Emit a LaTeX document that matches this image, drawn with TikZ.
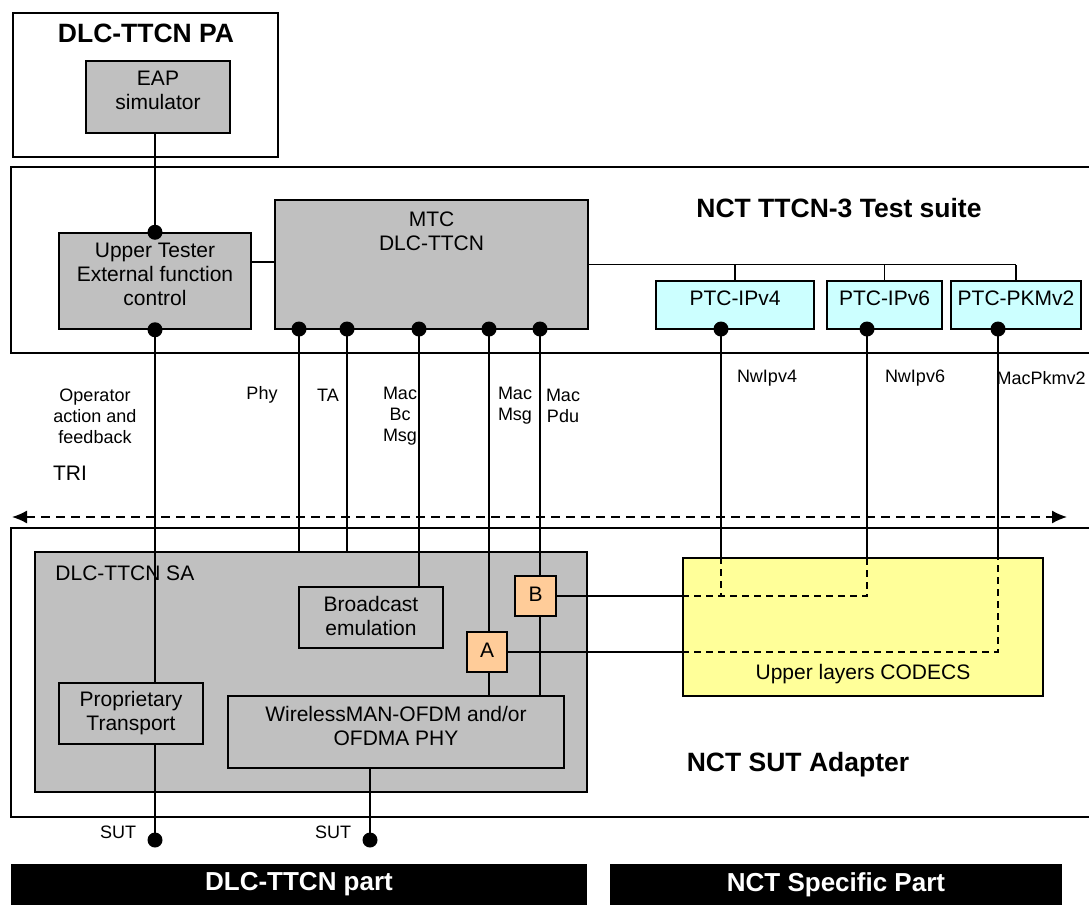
\documentclass[tikz,border=0pt]{standalone}
\usepackage{fontspec}
\setmainfont{Liberation Sans}
\usetikzlibrary{arrows.meta}
\definecolor{colorG}{HTML}{C0C0C0}
\definecolor{colorC}{HTML}{CCFFFF}
\definecolor{colorY}{HTML}{FFFF99}
\definecolor{colorO}{HTML}{FFCC99}
\tikzset{
    box/.style={draw, line width=1.5pt, fill=colorG, align=center, inner sep=0pt,
        font=\fontsize{21}{24}\selectfont},
    lift/.style={text depth=#1},
    frame/.style={draw, line width=1.4pt},
    wire/.style={line width=1.4pt},
    dashwire/.style={line width=1.4pt, dash pattern=on 7pt off 5pt},
    lbl/.style={align=center, inner sep=0pt, font=\fontsize{18}{21}\selectfont},
    head/.style={inner sep=0pt, font=\fontsize{26.5}{30}\selectfont\bfseries},
    bar/.style={fill=black, text=white, inner sep=0pt, font=\fontsize{26}{30}\selectfont\bfseries},
    dot/.style={fill=black}
}

\begin{document}
\begin{tikzpicture}[x=1pt,y=-1pt]
        \useasboundingbox (0,0) rectangle (1089,906);
        \clip (0,0) rectangle (1089,906);

        % frames
        \draw[frame] (13,13) rectangle (278,157);
        \draw[frame] (11,167) rectangle (1100,353);
        \draw[frame] (11,528) rectangle (1100,817);
        \node[head] (patitle) at (146,33) {DLC-TTCN PA};
        \node[head] (tstitle) at (839,208) {NCT TTCN-3 Test suite};
        \node[head] (suttitle) at (798,765) {NCT SUT Adapter};

        % test suite
        \node[box, lift=14pt, minimum width=144pt, minimum height=72pt] (eap) at (158,97) {EAP\\simulator};
        \node[box, lift=14pt, minimum width=192pt, minimum height=96pt] (ut) at (155,281) {Upper Tester\\External function\\control};
        \node[box, minimum width=313pt, minimum height=129pt,
            label={[anchor=north, align=center, inner sep=0pt, yshift=-12pt,
                font=\fontsize{21}{24}\selectfont]north:MTC\\DLC-TTCN}] (mtc) at (431.5,264.5) {};
        \node[box, lift=14pt, fill=colorC, minimum width=158pt, minimum height=48pt] (ipv4) at (735,305) {PTC-IPv4};
        \node[box, lift=14pt, fill=colorC, minimum width=115pt, minimum height=48pt] (ipv6) at (884.5,305) {PTC-IPv6};
        \node[box, lift=14pt, fill=colorC, minimum width=130pt, minimum height=48pt] (pkm) at (1016,305) {PTC-PKMv2};

        % adapter
        \node[box, minimum width=552pt, minimum height=240pt,
            label={[anchor=north west, inner sep=0pt, xshift=21pt, yshift=-14pt,
                font=\fontsize{21}{24}\selectfont]north west:DLC-TTCN SA}] (sa) at (311,672) {};
        \node[box, lift=3pt, minimum width=144pt, minimum height=61pt] (bc) at (371,617.5) {Broadcast\\emulation};
        \node[box, minimum width=144pt, minimum height=61pt] (pt) at (131,713.5) {Proprietary\\Transport};
        \node[box, lift=12pt, minimum width=336pt, minimum height=72pt] (phy) at (396,732) {WirelessMAN-OFDM and/or\\OFDMA PHY};
        \node[box, lift=3pt, fill=colorO, minimum width=41pt, minimum height=40pt] (boxB) at (535.5,596) {B};
        \node[box, lift=3pt, fill=colorO, minimum width=40pt, minimum height=40pt] (boxA) at (487,652) {A};
        \node[box, fill=colorY, minimum width=360pt, minimum height=138pt,
            label={[anchor=south, inner sep=0pt, yshift=13pt,
                font=\fontsize{21}{24}\selectfont]south:Upper layers CODECS}] (codec) at (863,627) {};

        % ports
        \coordinate (cphy) at (299,329);
        \coordinate (cta) at (347,329);
        \coordinate (cbc) at (419,329);
        \coordinate (cmsg) at (489,329);
        \coordinate (cpdu) at (540,329);
        \coordinate (cv4) at (721,329);
        \coordinate (cv6) at (867,329);
        \coordinate (cpk) at (998,329);
        \coordinate (sut1) at (155,840);
        \coordinate (sut2) at (370,840);
        \coordinate (trileft) at (12,517);
        \coordinate (triright) at (1067,517);

        % connections
        \draw[wire] (ut.north) -- (ut.north |- eap.south);
        \draw[wire] ([yshift=19pt]ut.east) -- ([yshift=19pt]ut.east -| mtc.west);
        \draw[wire] (mtc.east) -- (pkm.north |- mtc.east);
        \draw[wire] (ipv4.north) -- (ipv4.north |- mtc.east);
        \draw[wire] (ipv6.north) -- (ipv6.north |- mtc.east);
        \draw[wire] (pkm.north) -- (pkm.north |- mtc.east);
        \draw[wire] (ut.south) -- (ut.south |- pt.north);
        \draw[wire] (cphy) -- (cphy |- sa.north);
        \draw[wire] (cta) -- (cta |- sa.north);
        \draw[wire] (cbc) -- (cbc |- bc.north);
        \draw[wire] (cmsg) -- (cmsg |- boxA.north);
        \draw[wire] (cmsg |- boxA.south) -- (cmsg |- phy.north);
        \draw[wire] (cpdu) -- (cpdu |- boxB.north);
        \draw[wire] (cpdu |- boxB.south) -- (cpdu |- phy.north);
        \draw[wire] (cv4) -- (cv4 |- codec.north);
        \draw[wire] (cv6) -- (cv6 |- codec.north);
        \draw[wire] (cpk) -- (cpk |- codec.north);
        \draw[wire] (boxB.east) -- (boxB.east -| codec.west);
        \draw[wire] (boxA.east) -- (boxA.east -| codec.west);
        \draw[dashwire] (boxB.east -| codec.west) -- (boxB.east -| cv6) -- (cv6 |- codec.north);
        \draw[dashwire] (cv4 |- codec.north) -- (cv4 |- boxB.east);
        \draw[dashwire] (boxA.east -| codec.west) -- (boxA.east -| cpk) -- (cpk |- codec.north);
        \draw[wire] (sut1 |- pt.south) -- (sut1);
        \draw[wire] (sut2 |- phy.south) -- (sut2);
        \draw[line width=1.4pt, dash pattern=on 9pt off 6pt,
            {Latex[length=15pt,width=13pt]}-{Latex[length=15pt,width=13pt]}] (trileft) -- (triright);

        % dots
        \foreach \p in {ut.north, ut.south, cphy, cta, cbc, cmsg, cpdu, cv4, cv6, cpk, sut1, sut2}
            \fill[dot] (\p) circle (7.5pt);

        % labels
        \node[lbl] (operlbl) at (95,416) {Operator\\action and\\feedback};
        \node[lbl, font=\fontsize{21}{24}\selectfont] (trilbl) at (70,473) {TRI};
        \node[lbl] (phylbl) at (262,395) {Phy};
        \node[lbl] (talbl) at (328,395) {TA};
        \node[lbl] (bclbl) at (400,416) {Mac\\Bc\\Msg};
        \node[lbl] (msglbl) at (515,405.5) {Mac\\Msg};
        \node[lbl] (pdulbl) at (563,405.5) {Mac\\Pdu};
        \node[lbl] (v4lbl) at (767,378) {NwIpv4};
        \node[lbl] (v6lbl) at (915,378) {NwIpv6};
        \node[lbl] (pklbl) at (1041,378) {MacPkmv2};
        \node[lbl] (sutlbl1) at (118,832) {SUT};
        \node[lbl] (sutlbl2) at (333,832) {SUT};

        % bottom bars
        \node[bar, minimum width=576pt, minimum height=41pt] (dlcbar) at (299,884.5) {DLC-TTCN part};
        \node[bar, minimum width=452pt, minimum height=41pt] (nctbar) at (836,884.5) {NCT Specific Part};
\end{tikzpicture}
\end{document}
